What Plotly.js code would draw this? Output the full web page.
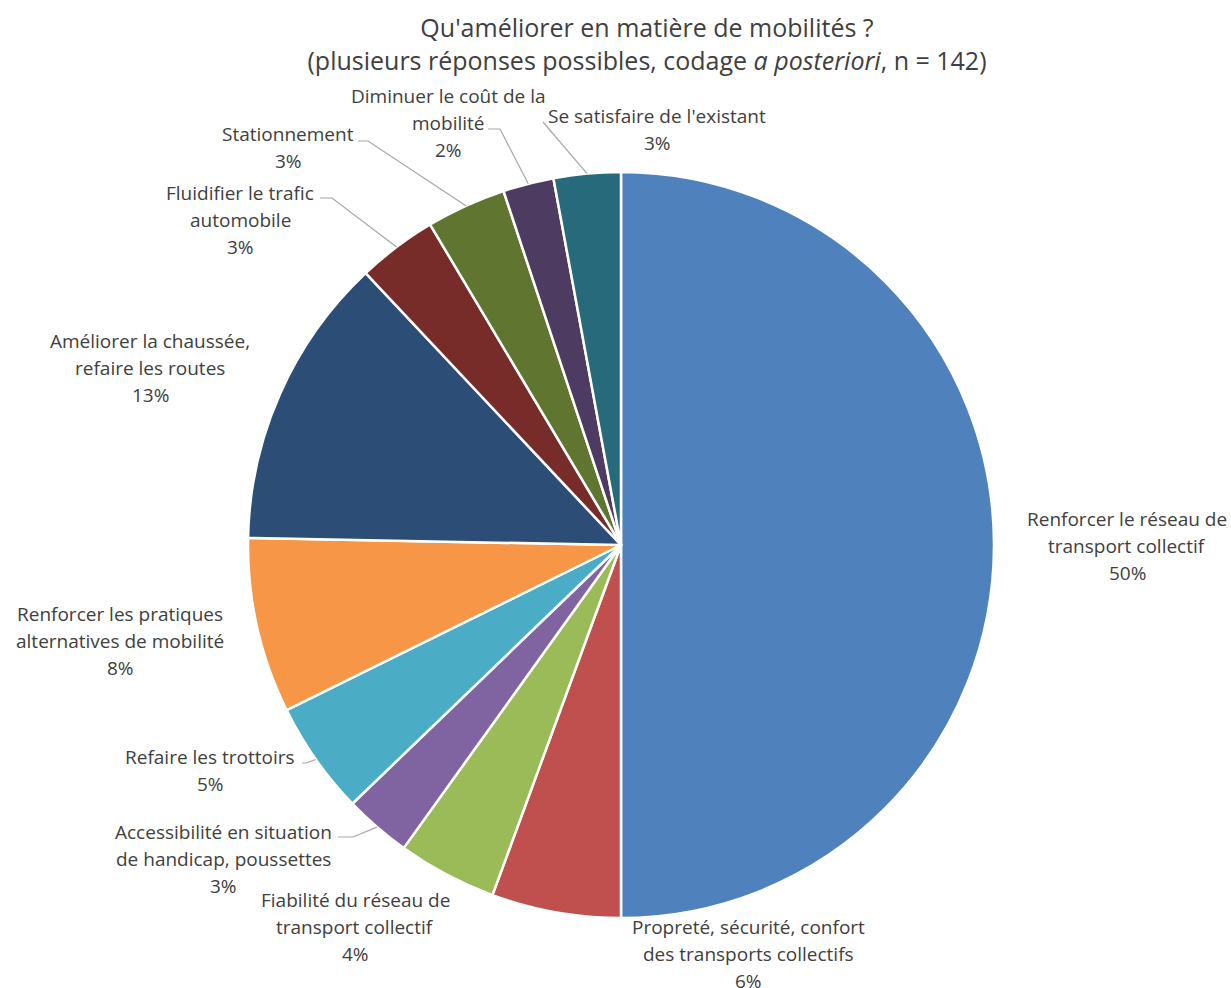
<!DOCTYPE html>
<html>
<head>
<meta charset="utf-8">
<script src="https://cdn.plot.ly/plotly-3.0.1.min.js"></script>
<style>html,body{margin:0;padding:0;background:#fff;}#chart{width:1231px;height:988px;}</style>
</head>
<body>
<div id="chart"></div>
<script>
// ---- data (percent of mentions) ----
const categories = [
  "Renforcer le réseau de transport collectif",
  "Propreté, sécurité, confort des transports collectifs",
  "Fiabilité du réseau de transport collectif",
  "Accessibilité en situation de handicap, poussettes",
  "Refaire les trottoirs",
  "Renforcer les pratiques alternatives de mobilité",
  "Améliorer la chaussée, refaire les routes",
  "Fluidifier le trafic automobile",
  "Stationnement",
  "Diminuer le coût de la mobilité",
  "Se satisfaire de l'existant"
];
const values = [50, 5.6, 4.3, 2.9, 4.9, 7.6, 12.7, 3.45, 3.45, 2.2, 2.9];
// label text broken in lines as in the picture
const labelLines = [
  ["Renforcer le réseau de", "transport collectif"],
  ["Propreté, sécurité, confort", "des transports collectifs"],
  ["Fiabilité du réseau de", "transport collectif"],
  ["Accessibilité en situation", "de handicap, poussettes"],
  ["Refaire les trottoirs"],
  ["Renforcer les pratiques", "alternatives de mobilité"],
  ["Améliorer la chaussée,", "refaire les routes"],
  ["Fluidifier le trafic", "automobile"],
  ["Stationnement"],
  ["Diminuer le coût de la", "mobilité"],
  ["Se satisfaire de l'existant"]
];

// ---- styling / layout ----
const colors = ["#4F81BD","#C0504D","#9BBB59","#8064A2","#4BACC6","#F79646",
                "#2C4D75","#772C2A","#5F7530","#4D3B62","#276A7C"];
const W = 1231, H = 988;
const CX = 621, CY = 545, R = 373;
// label placement: [center x px, first line center y px]
const labelPlace = [[1127,519],[748,927],[355,900],[223,832],[210,757],[120,614],
                    [150,341],[240,193],[288,134],[448,96],[657,116]];
// leader lines: [start x, start y, elbow x] or null
const leaders = [null,null,null,[338,837,353],[302,763,306],null,null,
                 [320,198,332],[358,141,368],[488,129,500],[543,122,543]];
const LINE_H = 26.8;
const FONT = "'Open Sans', sans-serif";
const TXT = "#404040";

const px = x => x / W, py = y => 1 - y / H;
const total = values.reduce((a,b)=>a+b,0);

const annotations = [];
const shapes = [];
let cum = 0;
values.forEach((v,i) => {
  const mid = (cum + v/2) / total;
  cum += v;
  const pct = Math.round(v/total*100) + "%";
  const lines = labelLines[i].concat([pct]);
  const [lx, ly] = labelPlace[i];
  lines.forEach((t,k) => {
    annotations.push({
      xref:"paper", yref:"paper", x:px(lx), y:py(ly + k*LINE_H),
      xanchor:"center", yanchor:"middle", showarrow:false, text:t,
      font:{family:FONT, size:19, color:TXT}
    });
  });
  const L = leaders[i];
  if (L) {
    const ang = mid * 2 * Math.PI; // clockwise from 12 o'clock
    const ex = CX + R * Math.sin(ang), ey = CY - R * Math.cos(ang);
    shapes.push({
      type:"path", xref:"paper", yref:"paper",
      path:`M ${px(L[0])} ${py(L[1])} L ${px(L[2])} ${py(L[1])} L ${px(ex)} ${py(ey)}`,
      line:{color:"#A6A6A6", width:1.2}
    });
  }
});

const trace = {
  type:"pie", labels:categories, values:values, sort:false,
  direction:"clockwise", rotation:0, textinfo:"none", hoverinfo:"label+percent",
  marker:{colors:colors, line:{color:"#FFFFFF", width:2.5}},
  domain:{x:[px(CX-R), px(CX+R)], y:[py(CY+R), py(CY-R)]},
  showlegend:false
};

const layout = {
  width:W, height:H,
  margin:{l:0,r:0,t:0,b:0},
  paper_bgcolor:"#FFFFFF",
  title:{
    text:"Qu'améliorer en matière de mobilités ?<br>(plusieurs réponses possibles, codage <i>a posteriori</i>, n = 142)",
    x:647/W, xanchor:"center", y:1-37/H, yanchor:"top",
    font:{family:FONT, size:25, color:TXT}
  },
  annotations:annotations,
  shapes:shapes
};

Plotly.newPlot("chart", [trace], layout, {displayModeBar:false, staticPlot:true});
</script>
</body>
</html>
